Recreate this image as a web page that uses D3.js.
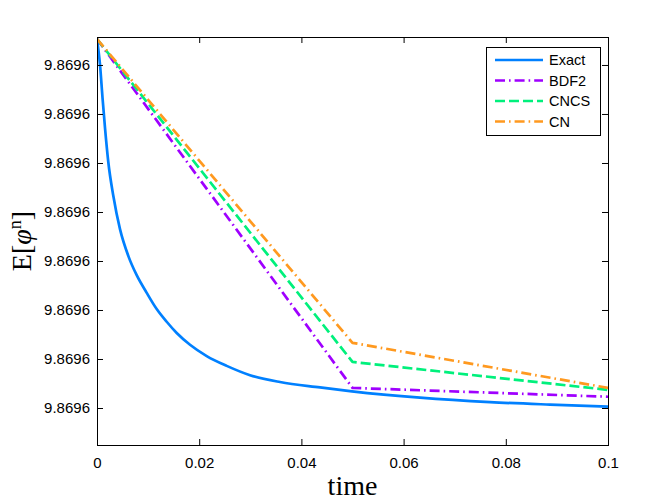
<!DOCTYPE html>
<html>
<head>
<meta charset="utf-8">
<script src="https://cdn.jsdelivr.net/npm/d3@7"></script>
<style>
  html, body { margin: 0; padding: 0; background: #fff; }
  svg { display: block; }
</style>
</head>
<body>
<svg id="chart" width="672" height="504"></svg>
<script>
// ---- data ----
const timeTicks = [0, 0.02, 0.04, 0.06, 0.08, 0.1];
const timeTickLabels = ["0", "0.02", "0.04", "0.06", "0.08", "0.1"];
const energyTicks = [9.8696044, 9.869604401, 9.869604402, 9.869604403,
                     9.869604404, 9.869604405, 9.869604406, 9.869604407];
const energyDomain = [9.869604399245, 9.869604407571];

const exactTime = [0, 0.00059, 0.00108, 0.00157, 0.00221, 0.00319, 0.0045, 0.00614,
  0.00777, 0.00973, 0.01168, 0.01364, 0.0156, 0.0182, 0.02147, 0.02538, 0.02994,
  0.03581, 0.04364, 0.0499, 0.06321, 0.07691, 0.08865, 0.1];
const exactEnergy = [9.86960440753, 9.86960440700, 9.86960440633, 9.86960440571,
  9.86960440502, 9.86960440433, 9.86960440365, 9.86960440310, 9.86960440271,
  9.86960440235, 9.86960440202, 9.86960440176, 9.86960440153, 9.86960440129,
  9.86960440106, 9.86960440086, 9.86960440067, 9.86960440053, 9.86960440042,
  9.86960440034, 9.86960440021, 9.86960440012, 9.86960440007, 9.86960440003];

const stepTime = [0, 0.05, 0.1];
const bdf2Energy = [9.86960440753, 9.86960440041, 9.86960440023];
const cncsEnergy = [9.86960440753, 9.86960440094, 9.86960440037];
const cnEnergy   = [9.86960440753, 9.86960440133, 9.86960440041];

const seriesNames = ["Exact", "BDF2", "CNCS", "CN"];

// ---- layout ----
const svg = d3.select("#chart");
const pL = 97, pR = 608, pT = 37, pB = 445;

const x = d3.scaleLinear().domain([0, 0.1]).range([pL, pR]);
const y = d3.scaleLinear().domain(energyDomain).range([pB, pT]);

const series = [
  { name: seriesNames[0], t: exactTime, e: exactEnergy, color: "#0080ff", dash: null, smooth: true },
  { name: seriesNames[1], t: stepTime, e: bdf2Energy, color: "#9f00ff", dash: "10,4,1.6,4" },
  { name: seriesNames[2], t: stepTime, e: cncsEnergy, color: "#00f07c", dash: "10,4" },
  { name: seriesNames[3], t: stepTime, e: cnEnergy, color: "#ff991f", dash: "10,4,1.6,4" }
];

svg.append("defs").append("clipPath").attr("id", "clip")
  .append("rect").attr("x", pL).attr("y", pT)
  .attr("width", pR - pL).attr("height", pB - pT);

const lineStraight = d3.line().x(d => x(d[0])).y(d => y(d[1]));
const lineSmooth = d3.line().x(d => x(d[0])).y(d => y(d[1])).curve(d3.curveMonotoneX);

const plot = svg.append("g").attr("clip-path", "url(#clip)");
series.forEach(s => {
  const pts = s.t.map((t, i) => [t, s.e[i]]);
  plot.append("path").datum(pts)
    .attr("d", s.smooth ? lineSmooth : lineStraight)
    .attr("fill", "none")
    .attr("stroke", s.color)
    .attr("stroke-width", 2.7)
    .attr("stroke-dasharray", s.dash)
    .attr("stroke-linejoin", "round");
});

// ---- axes ----
const tickFont = "15px 'Liberation Sans', Arial, sans-serif";
const tl = 6;

const xAxisB = d3.axisBottom(x).tickValues(timeTicks)
  .tickFormat((d, i) => timeTickLabels[i]).tickSizeInner(-tl).tickSizeOuter(0).tickPadding(12);
const gxb = svg.append("g").attr("transform", `translate(0,${pB})`).call(xAxisB);
const xAxisT = d3.axisTop(x).tickValues(timeTicks).tickFormat("").tickSizeInner(-tl).tickSizeOuter(0);
const gxt = svg.append("g").attr("transform", `translate(0,${pT})`).call(xAxisT);

const yAxisL = d3.axisLeft(y).tickValues(energyTicks)
  .tickFormat(d3.format(".4f")).tickSizeInner(-tl).tickSizeOuter(0).tickPadding(6);
const gyl = svg.append("g").attr("transform", `translate(${pL},0)`).call(yAxisL);
const yAxisR = d3.axisRight(y).tickValues(energyTicks).tickFormat("").tickSizeInner(-tl).tickSizeOuter(0);
const gyr = svg.append("g").attr("transform", `translate(${pR},0)`).call(yAxisR);

[gxb, gxt, gyl, gyr].forEach(g => {
  g.select(".domain").remove();
  g.selectAll(".tick line").attr("stroke", "#000").attr("stroke-width", 1);
  g.selectAll(".tick text").style("font", tickFont).attr("fill", "#000");
});
gyl.selectAll(".tick text").attr("dx", "-1");

svg.append("rect").attr("x", pL).attr("y", pT)
  .attr("width", pR - pL).attr("height", pB - pT)
  .attr("fill", "none").attr("stroke", "#000").attr("stroke-width", 1)
  .attr("shape-rendering", "crispEdges");

// ---- axis labels ----
svg.append("text")
  .attr("x", (pL + pR) / 2).attr("y", 495)
  .attr("text-anchor", "middle")
  .style("font", "28px 'Liberation Serif', 'Times New Roman', serif")
  .text("time");

const yl = svg.append("text")
  .attr("transform", `translate(31,${(pT + pB) / 2}) rotate(-90)`)
  .attr("text-anchor", "middle")
  .style("font", "28px 'Liberation Serif', 'Times New Roman', serif");
yl.append("tspan").text("E[");
yl.append("tspan").style("font-style", "italic").text("φ");
yl.append("tspan").attr("dy", "-10").style("font-size", "18px").text("n");
yl.append("tspan").attr("dy", "10").text("]");

// ---- legend ----
const lg = svg.append("g");
lg.append("rect").attr("x", 486).attr("y", 47).attr("width", 114).attr("height", 88)
  .attr("fill", "#fff").attr("stroke", "#000").attr("stroke-width", 1)
  .attr("shape-rendering", "crispEdges");
series.forEach((s, i) => {
  const yy = 60 + i * 20.5;
  lg.append("line").attr("x1", 495).attr("x2", 543).attr("y1", yy).attr("y2", yy)
    .attr("stroke", s.color).attr("stroke-width", 2.7)
    .attr("stroke-dasharray", s.dash);
  lg.append("text").attr("x", 549).attr("y", yy).attr("dy", "0.36em")
    .style("font", "14.5px 'Liberation Sans', Arial, sans-serif")
    .text(s.name);
});
</script>
</body>
</html>
